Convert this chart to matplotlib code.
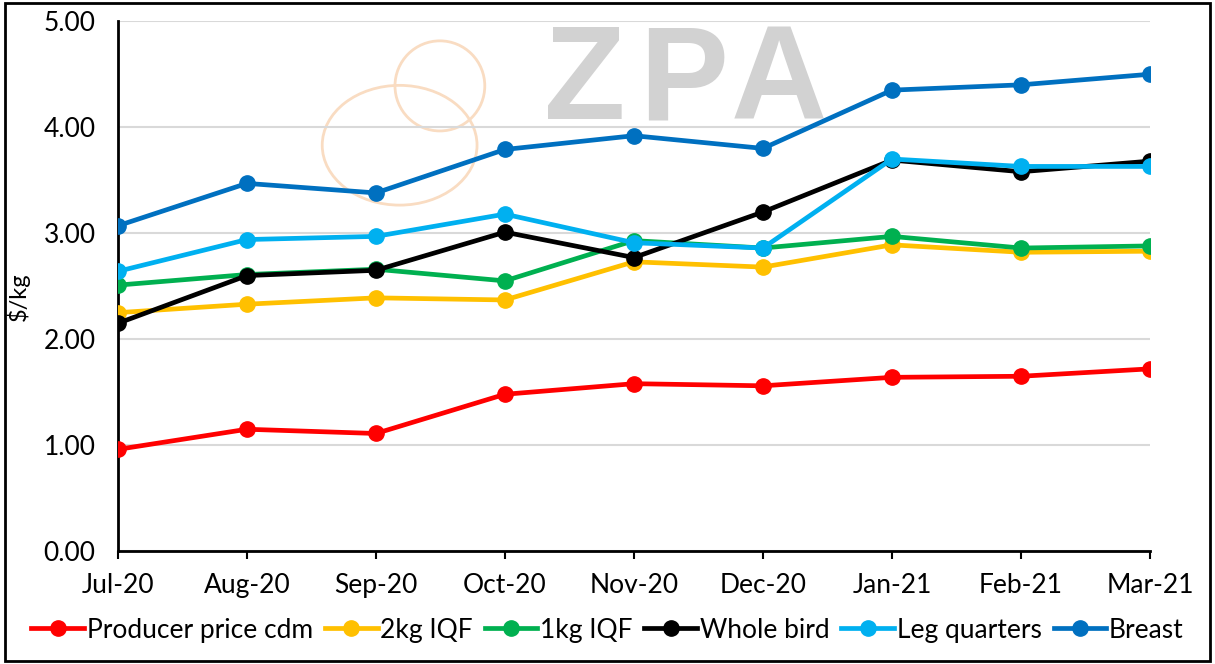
import numpy as np
import matplotlib.pyplot as plt
from matplotlib.patches import Rectangle, Ellipse

#Month labels along the x axis
months = ['Jul-20', 'Aug-20', 'Sep-20', 'Oct-20', 'Nov-20', 'Dec-20', 'Jan-21', 'Feb-21', 'Mar-21']

#Prices in $/kg
producer = [0.96, 1.15, 1.11, 1.48, 1.58, 1.56, 1.64, 1.65, 1.72]
iqf_2kg = [2.25, 2.33, 2.39, 2.37, 2.73, 2.68, 2.89, 2.82, 2.83]
iqf_1kg = [2.51, 2.61, 2.66, 2.55, 2.93, 2.86, 2.97, 2.86, 2.88]
whole_bird = [2.15, 2.60, 2.65, 3.01, 2.77, 3.20, 3.69, 3.58, 3.68]
leg_quarters = [2.64, 2.94, 2.97, 3.18, 2.91, 2.86, 3.70, 3.63, 3.63]
breast = [3.07, 3.47, 3.38, 3.79, 3.92, 3.80, 4.35, 4.40, 4.50]

series = ['Producer price cdm', '2kg IQF', '1kg IQF', 'Whole bird', 'Leg quarters', 'Breast']
colours = ['#FF0000', '#FFC000', '#00B050', '#000000', '#00B0F0', '#0070C0']

plt.rcParams['font.family'] = ['Lato', 'DejaVu Sans']

fig = plt.figure(figsize=(12.15, 6.64), dpi=100)
ax = fig.add_axes([0.097, 0.170, 0.8495, 0.798])

x = np.arange(len(months))

#Watermark behind the lines (logo text plus a rough hen outline)
wm = '#d2d2d2'
for lx, letter in zip([0.452, 0.548, 0.64], 'ZPA'):
    ax.text(lx, 0.88, letter, transform=ax.transAxes, fontsize=96, fontweight='bold',
            family='Liberation Sans', color=wm, ha='center', va='center', zorder=0)
hen = '#f9dcc2'
ax.add_patch(Ellipse((0.273, 0.766), 0.15, 0.226, transform=ax.transAxes, fill=False,
                     edgecolor=hen, lw=2, zorder=0))
ax.add_patch(Ellipse((0.312, 0.878), 0.087, 0.17, transform=ax.transAxes, fill=False,
                     edgecolor=hen, lw=2, zorder=0))

data = [producer, iqf_2kg, iqf_1kg, whole_bird, leg_quarters, breast]
for vals, name, col in zip(data, series, colours):
    ax.plot(x, vals, color=col, lw=3.4, marker='o', markersize=11, label=name, zorder=3)

ax.set_xlim(0, len(months) - 1)
ax.set_ylim(0, 5)
ax.set_yticks(np.arange(0, 5.01, 1))
ax.set_yticklabels(['%.2f' % v for v in np.arange(0, 5.01, 1)])
ax.set_xticks(x)
ax.set_xticklabels(months)
ax.tick_params(axis='y', length=0, labelsize=19, pad=16)
ax.tick_params(axis='x', length=6, width=1.5, labelsize=19, pad=10, direction='out')
ax.grid(axis='y', color='#d9d9d9', lw=1.5)
ax.set_axisbelow(True)
ax.spines['top'].set_visible(False)
ax.spines['right'].set_visible(False)
ax.spines['left'].set_linewidth(2)
ax.spines['bottom'].set_linewidth(2)
ax.set_ylabel('$/kg', fontsize=17)
ax.yaxis.set_label_coords(-0.085, 0.48)

fig.legend(loc='center', bbox_to_anchor=(0.5, 0.051), ncol=6, frameon=False, fontsize=19,
           handlelength=2.0, handletextpad=0.1, columnspacing=0.45)

#Black frame around the whole picture
fig.patches.append(Rectangle((0.004, 0.005), 0.992, 0.99, transform=fig.transFigure,
                             fill=False, edgecolor='black', lw=2))

fig.savefig('out.png', dpi=100)
